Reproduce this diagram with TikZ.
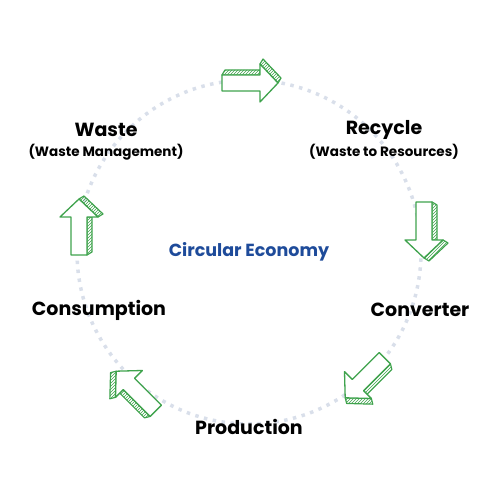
\documentclass[tikz,border=0pt]{standalone}
\usepackage{fontspec}
\setmainfont{Poppins}
\usetikzlibrary{patterns}

\definecolor{ecogreen}{HTML}{3FA34D}
\definecolor{ecoblue}{HTML}{1E4B9A}
\definecolor{dotgray}{HTML}{D9DFEA}

\tikzset{
  stage/.style={font=\bfseries\fontsize{19}{22}\selectfont, text=black},
  stagesub/.style={font=\bfseries\fontsize{13.5}{16}\selectfont, text=black},
  ecoarrow/.pic={
    % side faces
    \draw[ecogreen, line width=1.2pt, pattern=north east lines, pattern color=ecogreen, line join=round]
      (-28,8) -- (-25,13) -- (10,13) -- (10,8) -- cycle;
    \draw[ecogreen, line width=1.2pt, pattern=north east lines, pattern color=ecogreen, line join=round]
      (10,19) -- (13,24) -- (31,5) -- (28,0) -- cycle;
    % front face
    \draw[ecogreen, line width=1.3pt, fill=white, line join=round]
      (-28,-8) -- (10,-8) -- (10,-19) -- (28,0) -- (10,19) -- (10,8) -- (-28,8) -- cycle;
  }
}

\begin{document}
\begin{tikzpicture}[x=1pt, y=1pt]
  \useasboundingbox (0,0) rectangle (500,500);

  % trace
  \coordinate (hub) at (249,248);
  \draw[dotgray, line width=3.5pt, dash pattern=on 3.5pt off 5.5pt] (hub) circle [radius=172];

  % cycle arrows
  \foreach \px/\py/\rot/\flip in {250/417/0/1, 424/270/-90/1, 365/122/-135/1, 136/109/135/1, 79/273/90/-1} {
    \pic[rotate=\rot, yscale=\flip] at (\px,\py) {ecoarrow};
  }

  % labels
  \node (centre) at (hub) [font=\bfseries\fontsize{17.5}{20}\selectfont, text=ecoblue] {Circular Economy};

  \node[stage] (waste) at (106,370) {Waste};
  \node[stagesub] (wastesub) at (106,348) {(Waste Management)};
  \node[stage] (recycle) at (384,370) {Recycle};
  \node[stagesub] (recyclesub) at (384,348) {(Waste to Resources)};
  \node[stage] (converter) at (420,190) {Converter};
  \node[stage] (production) at (249,73) {Production};
  \node[stage] (consumption) at (99,190) {Consumption};
\end{tikzpicture}
\end{document}
